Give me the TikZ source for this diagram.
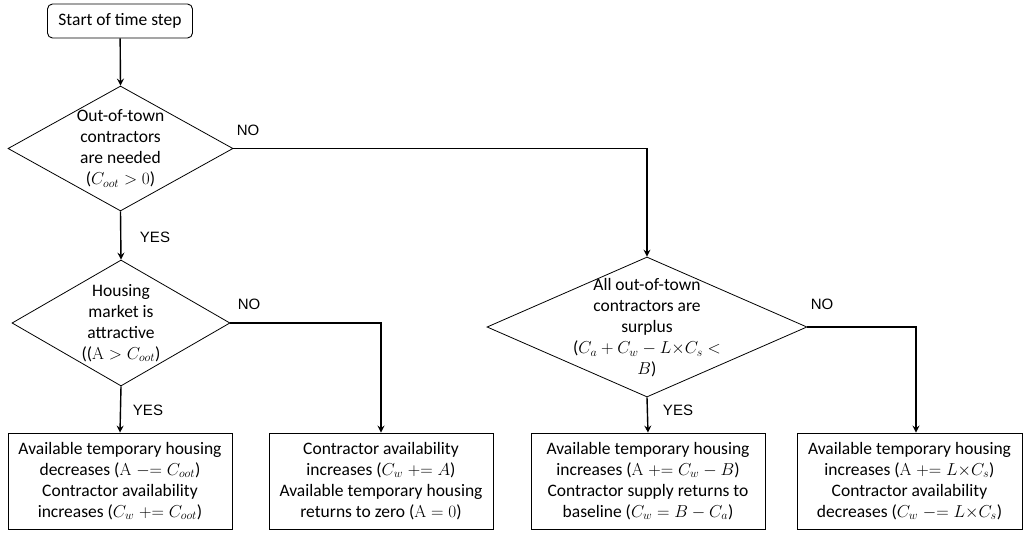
\documentclass[tikz,border=0pt]{standalone}
\usepackage[no-math]{fontspec}
\setmainfont{Carlito}
\newfontfamily\lblfont{Liberation Sans}
\usetikzlibrary{arrows.meta,shapes.geometric,calc}
\tikzset{
  every node/.style={font=\fontsize{17.5}{21}\selectfont},
  txt/.style={align=center, inner sep=0pt},
  dia/.style={draw, shape=diamond, inner sep=0pt, line width=0.8pt},
  box/.style={draw, line width=0.9pt, minimum height=96pt, align=center, inner sep=0pt},
  startbox/.style={draw, rounded corners=5pt, line width=0.9pt, minimum width=145pt, minimum height=34pt, inner sep=0pt},
  arr/.style={line width=1.4pt, -{Stealth[length=7pt,width=7pt,inset=2.5pt]}},
  conn/.style={line width=1.4pt},
  lbl/.style={font=\lblfont\fontsize{15}{18}\selectfont, inner sep=0pt},
}
\newcommand{\pe}{\mathrel{+}\mathrel{=}}
\newcommand{\me}{\mathrel{-}\mathrel{=}}
\begin{document}
\begin{tikzpicture}[x=1pt,y=-1pt]
\useasboundingbox (0,0) rectangle (1026,533);
\node[startbox] (start) at (120,21) {Start of time step};

\node[dia, minimum width=225pt, minimum height=125pt] (d1) at (120.5,148.5) {};
\node[txt] (t1) at (d1.center) {Out-of-town\\contractors\\are needed\\($C_{oot} > 0$)};

\node[dia, minimum width=218pt, minimum height=126pt] (d2) at (121,323) {};
\node[txt] (t2) at (d2.center) {Housing\\market is\\attractive\\(($\mathrm{A} > C_{oot}$)};

\node[dia, minimum width=320pt, minimum height=140pt] (d3) at (647,327) {};
\node[txt] (t3) at (647,328) {All out-of-town\\contractors are\\surplus\\($C_a + C_w - L{\times}C_s <$\\$B$)};

\node[box, minimum width=224pt] (b1) at (120,481) {Available temporary housing\\decreases ($\mathrm{A} \me C_{oot}$)\\Contractor availability\\increases ($C_w \pe C_{oot}$)};
\node[box, minimum width=224pt] (b2) at (381,481) {Contractor availability\\increases ($C_w \pe A$)\\Available temporary housing\\returns to zero ($\mathrm{A} = 0$)};
\node[box, minimum width=234pt] (b3) at (648,481) {Available temporary housing\\increases ($\mathrm{A} \pe C_w - B$)\\Contractor supply returns to\\baseline ($C_w = B - C_a$)};
\node[box, minimum width=225pt] (b4) at (909.5,481) {Available temporary housing\\increases ($\mathrm{A} \pe L{\times}C_s$)\\Contractor availability\\decreases ($C_w \me L{\times}C_s$)};

\coordinate (c1) at (d1.east -| d3.north);
\coordinate (c2) at (d2.east -| b2.north);
\coordinate (c3) at (d3.east -| 916,0);

\draw[arr] (start) -- (d1.north);
\draw[arr] (d1.south) -- (d2.north);
\node[lbl] (yes1) at (155,237) {YES};
\draw[arr] (d1.east) -- (c1) -- (d3.north);
\node[lbl] (no1) at (248,130) {NO};
\draw[arr] (d2.south) -- (b1.north);
\node[lbl] (yes2) at (148,410) {YES};
\draw[arr] (d2.east) -- (c2) -- (b2.north);
\node[lbl] (no2) at (249,304) {NO};
\draw[arr] (d3.south) -- (b3.north);
\node[lbl] (yes3) at (678,410) {YES};
\draw[arr] (d3.east) -- (c3) -- (c3 |- b4.north);
\node[lbl] (no3) at (822,304) {NO};
\end{tikzpicture}
\end{document}
